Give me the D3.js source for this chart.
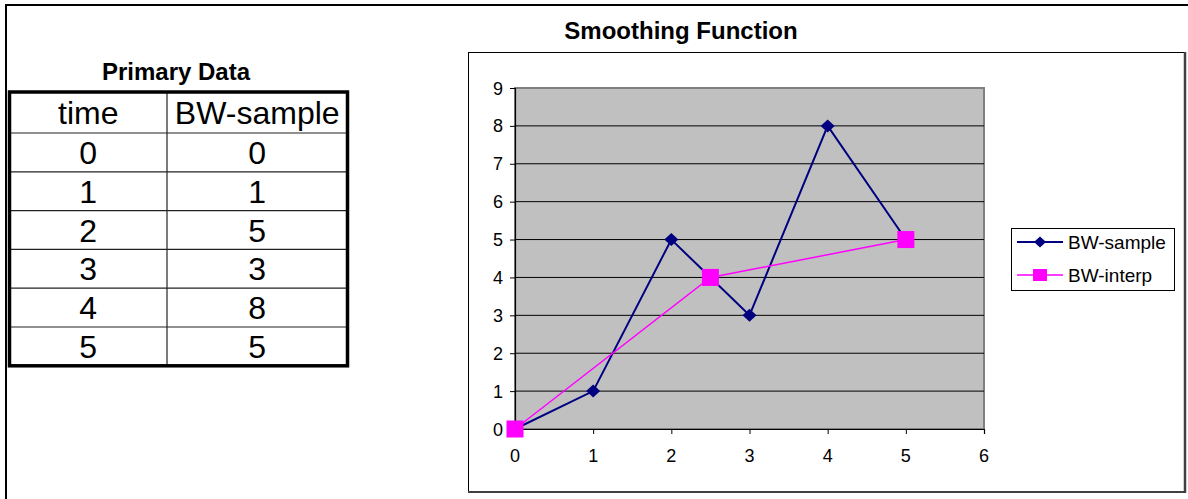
<!DOCTYPE html>
<html><head><meta charset="utf-8">
<script src="https://cdn.jsdelivr.net/npm/d3@7"></script>
<style>body{margin:0;background:#fff;}svg{display:block;font-family:"Liberation Sans",Arial,sans-serif;}</style>
</head><body>
<svg id="c" width="1188" height="499"></svg>
<script>
const tableHeaders = ["time", "BW-sample"];
const times = [0, 1, 2, 3, 4, 5];
const bwSample = [0, 1, 5, 3, 8, 5];
const interpX = [0, 2.5, 5];
const interpY = [0, 4, 5];
const xTicks = [0, 1, 2, 3, 4, 5, 6];
const yTicks = [0, 1, 2, 3, 4, 5, 6, 7, 8, 9];
const seriesNames = ["BW-sample", "BW-interp"];

const svg = d3.select("#c");
function stext(parent, x, y, str, size, anchor, bold){
  const t = parent.append("text")
    .attr("x", x).attr("y", y)
    .attr("text-anchor", anchor || "start")
    .attr("font-size", size).attr("fill", "#000").text(str);
  if (bold) t.attr("font-weight", "bold");
  return t;
}

// outer sheet frame
svg.append("line").attr("x1",5).attr("x2",1188).attr("y1",5).attr("y2",5).attr("stroke","#000").attr("stroke-width",2);
svg.append("line").attr("x1",6).attr("x2",6).attr("y1",4).attr("y2",499).attr("stroke","#000").attr("stroke-width",2);

// ---- table ----
stext(svg, 176, 80, "Primary Data", 24, "middle", true);
const tX0 = 9.5, tX1 = 347.5, tMid = 167, tTop = 92, hdrBot = 133, rowH = 38.8;
const rowY = d3.scaleLinear().domain([0, times.length]).range([hdrBot, hdrBot + rowH*times.length]);
const tg = svg.append("g");
tg.selectAll("line.r").data(d3.range(1, times.length)).join("line")
  .attr("x1",tX0).attr("x2",tX1).attr("y1",d=>rowY(d)).attr("y2",d=>rowY(d)).attr("stroke","#222").attr("stroke-width",1.2);
tg.append("line").attr("x1",tX0).attr("x2",tX1).attr("y1",hdrBot).attr("y2",hdrBot).attr("stroke","#222").attr("stroke-width",1.2);
tg.append("line").attr("x1",tMid).attr("x2",tMid).attr("y1",tTop).attr("y2",rowY(times.length)).attr("stroke","#222").attr("stroke-width",1.2);
tg.append("rect").attr("x",tX0).attr("y",tTop).attr("width",tX1-tX0).attr("height",rowY(times.length)-tTop).attr("fill","none").attr("stroke","#000").attr("stroke-width",3.5);
const colC = [(tX0+tMid)/2, (tMid+tX1)/2];
tableHeaders.forEach((h,i)=> stext(tg, colC[i], 124, h, 32, "middle"));
times.forEach((t,i)=>{
  const cy = (rowY(i)+rowY(i+1))/2 + 11.5;
  stext(tg, colC[0], cy, t, 32, "middle");
  stext(tg, colC[1], cy, bwSample[i], 32, "middle");
});

// ---- chart ----
svg.append("rect").attr("x",468.5).attr("y",52.5).attr("width",716).attr("height",439).attr("fill","#fff").attr("stroke","#000").attr("stroke-width",1);
svg.append("line").attr("x1",1185).attr("x2",1185).attr("y1",52).attr("y2",493).attr("stroke","#404040").attr("stroke-width",2.5);
svg.append("line").attr("x1",468).attr("x2",1186).attr("y1",492).attr("y2",492).attr("stroke","#404040").attr("stroke-width",2);
stext(svg, 681, 38.5, "Smoothing Function", 24, "middle", true);

const x = d3.scaleLinear().domain([0,6]).range([515,984]);
const y = d3.scaleLinear().domain([0,9]).range([429,88]);

svg.append("rect").attr("x",x(0)).attr("y",y(9)).attr("width",x(6)-x(0)).attr("height",y(0)-y(9)).attr("fill","#c0c0c0").attr("stroke","#808080").attr("stroke-width",2);
svg.append("g").selectAll("line").data(yTicks.slice(1,-1)).join("line")
  .attr("x1",x(0)).attr("x2",x(6)).attr("y1",d=>y(d)).attr("y2",d=>y(d)).attr("stroke","#000").attr("stroke-width",1);

const yAxis = svg.append("g").attr("transform",`translate(${x(0)},0)`).call(d3.axisLeft(y).tickValues(yTicks).tickSize(5).tickFormat(""));
const xAxis = svg.append("g").attr("transform",`translate(0,${y(0)})`).call(d3.axisBottom(x).tickValues(xTicks).tickSize(5).tickFormat(""));
[yAxis,xAxis].forEach(a=>{
  a.select(".domain").attr("stroke","#000").attr("stroke-width",1.2);
  a.selectAll(".tick line").attr("stroke","#000");
});
const fmt = d3.format("d");
yTicks.forEach(v=> stext(svg, 503, y(v)+6.5, fmt(v), 18, "end"));
xTicks.forEach(v=> stext(svg, x(v), 461.5, fmt(v), 18, "middle"));

const navy = "#000080", mag = "#ff00ff";
const line = d3.line().x(d=>x(d[0])).y(d=>y(d[1]));
const sData = times.map((t,i)=>[t,bwSample[i]]);
const iData = interpX.map((t,i)=>[t,interpY[i]]);
svg.append("path").datum(sData).attr("d",line).attr("fill","none").attr("stroke",navy).attr("stroke-width",2);
svg.append("path").datum(iData).attr("d",line).attr("fill","none").attr("stroke",mag).attr("stroke-width",1.5);
const diamond = (cx,cy,rx,ry)=>`M${cx},${cy-ry}L${cx+rx},${cy}L${cx},${cy+ry}L${cx-rx},${cy}Z`;
svg.append("g").selectAll("path").data(sData).join("path").attr("d",d=>diamond(x(d[0]),y(d[1]),7,6.5)).attr("fill",navy);
svg.append("g").selectAll("rect").data(iData).join("rect")
  .attr("x",d=>x(d[0])-8.5).attr("y",d=>y(d[1])-8.5).attr("width",17).attr("height",17).attr("fill",mag);

// legend
const lg = svg.append("g");
lg.append("rect").attr("x",1011.5).attr("y",228.5).attr("width",163).attr("height",62).attr("fill","#fff").attr("stroke","#000").attr("stroke-width",1);
const legY = [242, 275];
seriesNames.forEach((n,i)=>{
  const cy = legY[i];
  const col = i===0?navy:mag;
  lg.append("line").attr("x1",1017).attr("x2",1063).attr("y1",cy).attr("y2",cy).attr("stroke",col).attr("stroke-width",i===0?2:1.5);
  if(i===0) lg.append("path").attr("d",diamond(1040,cy,6,5.5)).attr("fill",navy);
  else lg.append("rect").attr("x",1033).attr("y",cy-6).attr("width",14).attr("height",12).attr("fill",mag);
  stext(lg, 1068, cy+7, n, 19, "start");
});
</script>
</body></html>
